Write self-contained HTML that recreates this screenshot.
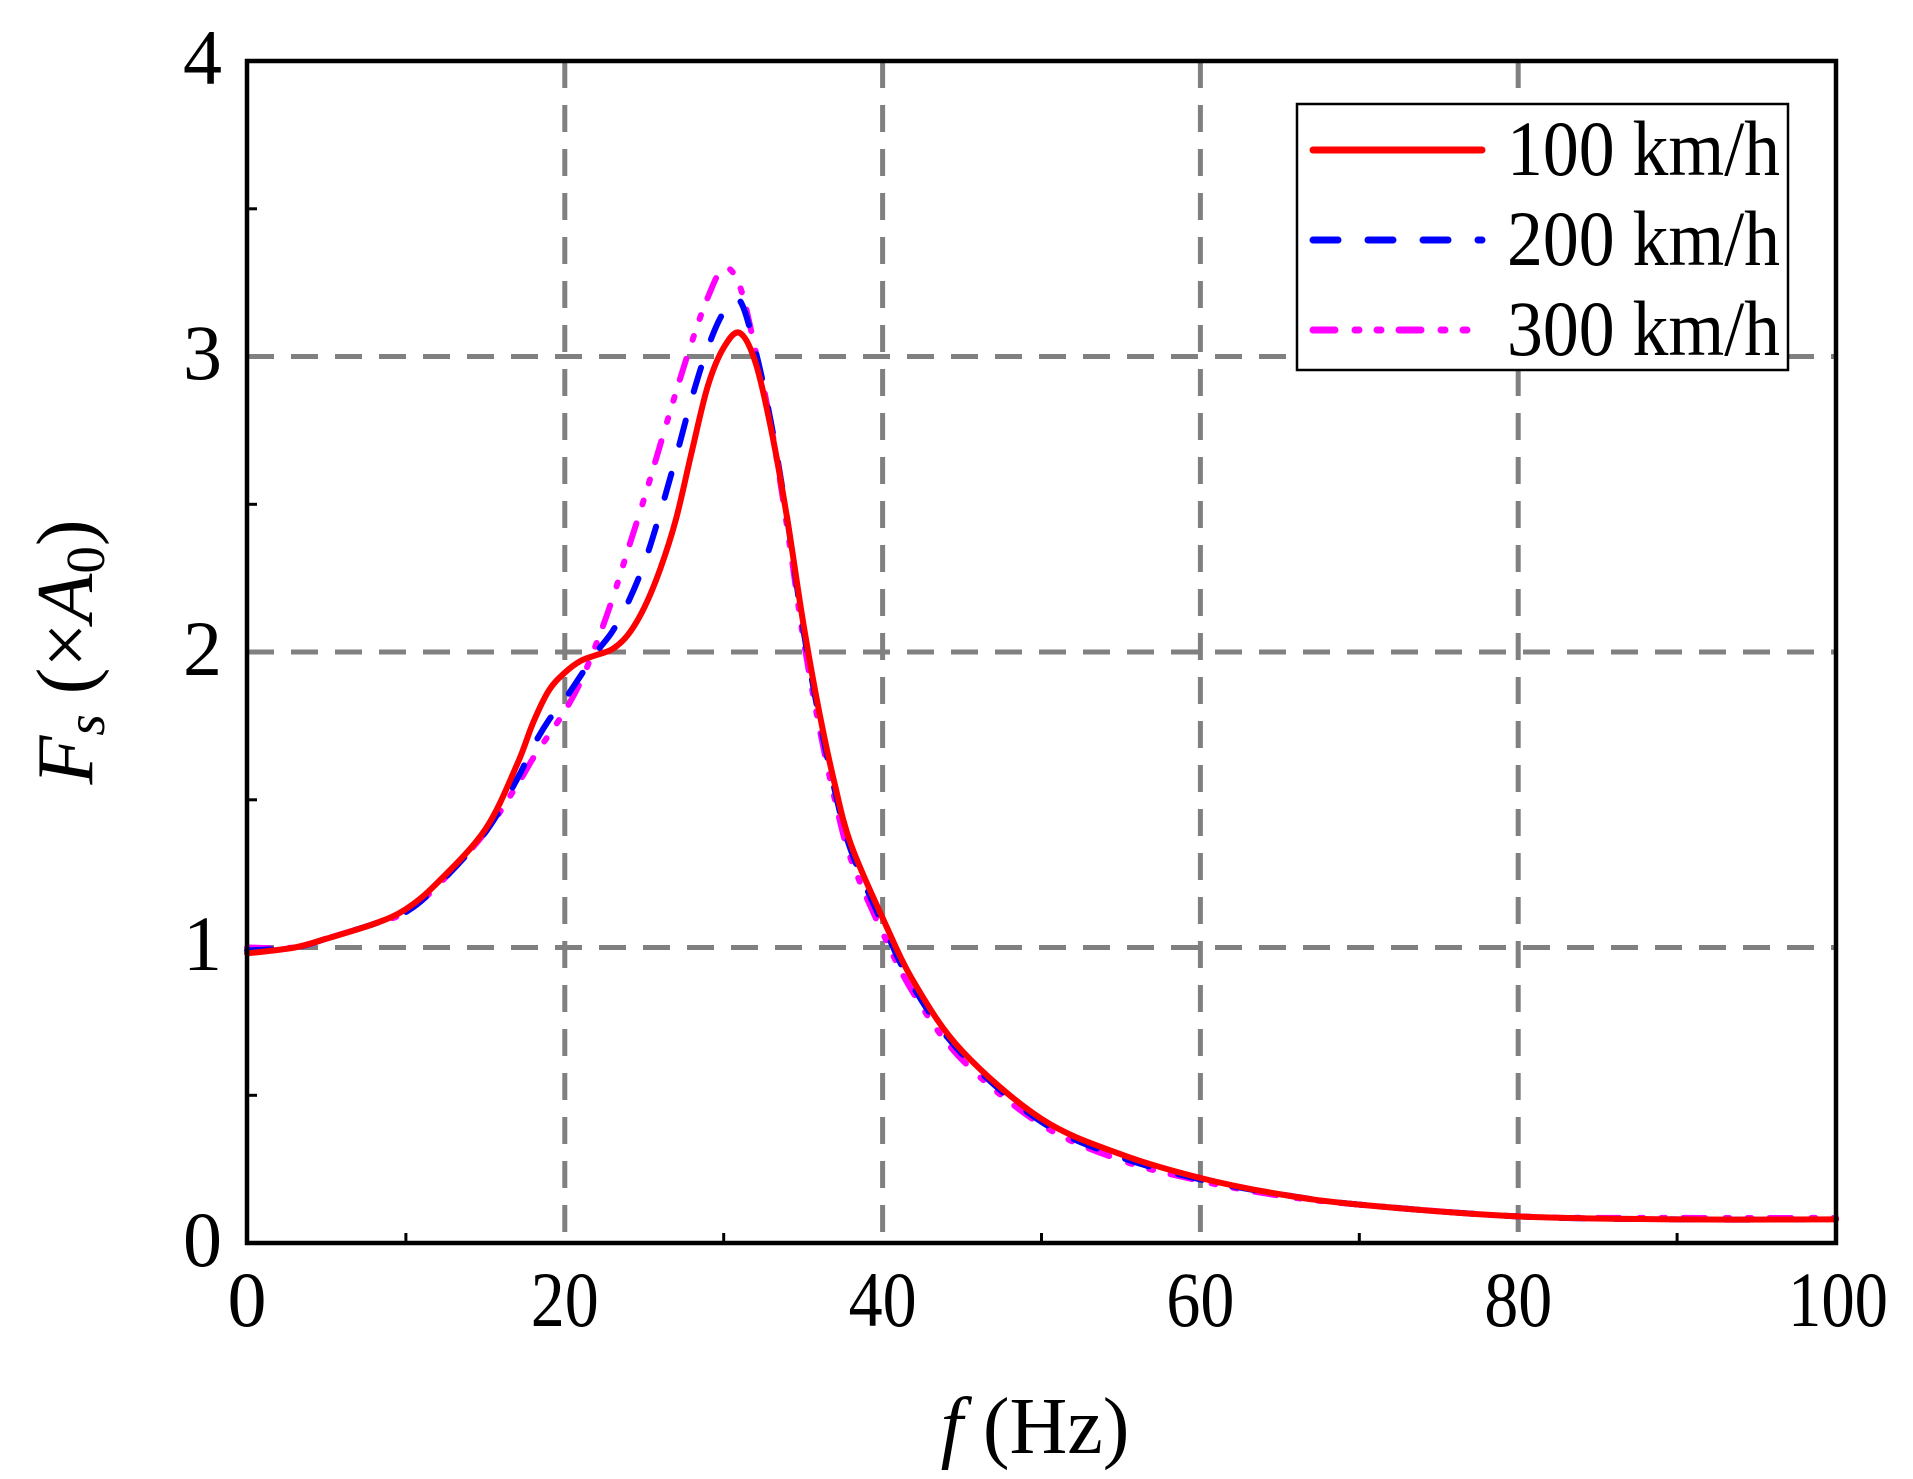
<!DOCTYPE html>
<html><head><meta charset="utf-8"><style>
html,body{margin:0;padding:0;background:#fff;}
svg{display:block;}
text{font-family:"Liberation Serif",serif;fill:#000;}
</style></head><body>
<svg id="s" width="1913" height="1479" viewBox="0 0 1913 1479" xmlns="http://www.w3.org/2000/svg">
<g stroke="#808080" stroke-width="5" stroke-dasharray="27,17" fill="none">
<line x1="564.8" y1="61" x2="564.8" y2="1243"/>
<line x1="882.6" y1="61" x2="882.6" y2="1243"/>
<line x1="1200.4" y1="61" x2="1200.4" y2="1243"/>
<line x1="1518.2" y1="61" x2="1518.2" y2="1243"/>
<line x1="247" y1="947.5" x2="1836" y2="947.5"/>
<line x1="247" y1="652" x2="1836" y2="652"/>
<line x1="247" y1="356.5" x2="1836" y2="356.5"/>
</g>
<g stroke="#000" stroke-width="3">
<line x1="247" y1="1095.3" x2="257" y2="1095.3"/>
<line x1="247" y1="799.8" x2="257" y2="799.8"/>
<line x1="247" y1="504.3" x2="257" y2="504.3"/>
<line x1="247" y1="208.8" x2="257" y2="208.8"/>
<line x1="405.9" y1="1243" x2="405.9" y2="1233"/>
<line x1="723.7" y1="1243" x2="723.7" y2="1233"/>
<line x1="1041.5" y1="1243" x2="1041.5" y2="1233"/>
<line x1="1359.3" y1="1243" x2="1359.3" y2="1233"/>
<line x1="1677.1" y1="1243" x2="1677.1" y2="1233"/>
</g>
<g id="curves" fill="none" stroke-linecap="round" stroke-linejoin="round"></g>
<rect x="247" y="61" width="1589" height="1182" fill="none" stroke="#000" stroke-width="4.5"/>
<rect x="1297" y="104" width="491" height="266" fill="#fff" stroke="#000" stroke-width="2.5"/>
<line x1="1313" y1="150" x2="1482" y2="150" stroke="#f00" stroke-width="7" stroke-linecap="round"/>
<line x1="1313" y1="240" x2="1482" y2="240" stroke="#00f" stroke-width="7" stroke-linecap="round" stroke-dasharray="25,30"/>
<line x1="1313" y1="330" x2="1482" y2="330" stroke="#f0f" stroke-width="7" stroke-linecap="round" stroke-dasharray="22,20,4,18,4,18"/>
<g font-size="78">
<text x="1507" y="175" textLength="273" lengthAdjust="spacingAndGlyphs">100 km/h</text>
<text x="1507" y="265" textLength="273" lengthAdjust="spacingAndGlyphs">200 km/h</text>
<text x="1507" y="355" textLength="273" lengthAdjust="spacingAndGlyphs">300 km/h</text>
</g>
<g font-size="78" text-anchor="end">
<text x="222" y="1266">0</text>
<text x="222" y="970">1</text>
<text x="222" y="675">2</text>
<text x="222" y="379">3</text>
<text x="222" y="84">4</text>
</g>
<g font-size="78" text-anchor="middle">
<text x="247" y="1326">0</text>
<text x="564.8" y="1326" textLength="68" lengthAdjust="spacingAndGlyphs">20</text>
<text x="882.6" y="1326" textLength="68" lengthAdjust="spacingAndGlyphs">40</text>
<text x="1200.4" y="1326" textLength="68" lengthAdjust="spacingAndGlyphs">60</text>
<text x="1518.2" y="1326" textLength="68" lengthAdjust="spacingAndGlyphs">80</text>
<text x="1838" y="1326" textLength="100" lengthAdjust="spacingAndGlyphs">100</text>
</g>
<text x="1035" y="1453" font-size="80" text-anchor="middle"><tspan font-style="italic">f</tspan> (Hz)</text>
<text transform="translate(92,652) rotate(-90)" font-size="80" text-anchor="middle"><tspan font-style="italic">F</tspan><tspan font-style="italic" font-size="55" dy="12">s</tspan><tspan dy="-12"> (×</tspan><tspan font-style="italic">A</tspan><tspan font-size="55" dy="12">0</tspan><tspan dy="-12">)</tspan></text>
</svg>
<script>
function X(f){return 247+f*15.89;}
function Y(v){return 1243-v*295.5;}
var tail=[[38,1.35],[40,1.1],[42,0.88],[45,0.65],[50,0.42],[55,0.3],[60,0.22],[65,0.165],[70,0.13],[80,0.09],[90,0.08],[100,0.08]];
var red=[[0,0.98],[3,1.0],[5,1.03],[8,1.08],[10,1.13],[12,1.22],[15,1.4],[17,1.62],[18,1.76],[19,1.87],[20,1.93],[21,1.97],[22,1.99],[23,2.01],[24,2.06],[25,2.15],[26,2.28],[27,2.45],[28,2.68],[29,2.9],[30,3.03],[31,3.08],[32,2.98],[33,2.75],[34,2.45],[35,2.1],[36,1.8],[37,1.55]].concat(tail);
var blue=[[0,0.99],[3,1.0],[5,1.03],[8,1.08],[10,1.12],[12,1.21],[15,1.39],[17,1.57],[18,1.68],[19,1.77],[20,1.84],[21,1.92],[22,2.0],[23,2.07],[24,2.17],[25,2.3],[26,2.47],[27,2.66],[28,2.86],[29,3.03],[30,3.15],[31,3.19],[32,3.02],[33,2.77],[34,2.45],[35,2.08],[36,1.78],[37,1.53],[38,1.33],[40,1.08],[42,0.86],[45,0.64],[50,0.41],[55,0.29],[60,0.215],[65,0.165],[70,0.13],[80,0.09],[90,0.08],[100,0.08]];
var mag=[[0,1.0],[3,1.0],[5,1.03],[8,1.08],[10,1.12],[12,1.21],[15,1.39],[17,1.55],[18,1.64],[19,1.72],[20,1.8],[21,1.9],[22,2.03],[23,2.18],[24,2.35],[25,2.52],[26,2.7],[27,2.88],[28,3.05],[29,3.2],[30,3.3],[31,3.24],[32,3.02],[33,2.76],[34,2.42],[35,2.05],[36,1.75],[37,1.5],[38,1.3],[40,1.05],[42,0.84],[45,0.62],[50,0.4],[55,0.28],[60,0.21],[65,0.16],[70,0.13],[80,0.09],[90,0.085],[100,0.085]];
function path(d){var p=d.map(function(a){return [X(a[0]),Y(a[1])];});
var s="M"+p[0][0]+","+p[0][1];
for(var i=0;i<p.length-1;i++){var p0=p[Math.max(i-1,0)],p1=p[i],p2=p[i+1],p3=p[Math.min(i+2,p.length-1)];
var c1x=p1[0]+(p2[0]-p0[0])/6,c1y=p1[1]+(p2[1]-p0[1])/6,c2x=p2[0]-(p3[0]-p1[0])/6,c2y=p2[1]-(p3[1]-p1[1])/6;
s+=" C"+c1x+","+c1y+" "+c2x+","+c2y+" "+p2[0]+","+p2[1];}return s;}
var g=document.getElementById("curves"),ns="http://www.w3.org/2000/svg";
[[mag,"#f0f","22,20,4,18,4,18"],[blue,"#00f","25,30"],[red,"#f00",""]].forEach(function(c){
var e=document.createElementNS(ns,"path");e.setAttribute("d",path(c[0]));e.setAttribute("stroke",c[1]);e.setAttribute("stroke-width","6");
if(c[2])e.setAttribute("stroke-dasharray",c[2]);g.appendChild(e);});
</script>
</body></html>
